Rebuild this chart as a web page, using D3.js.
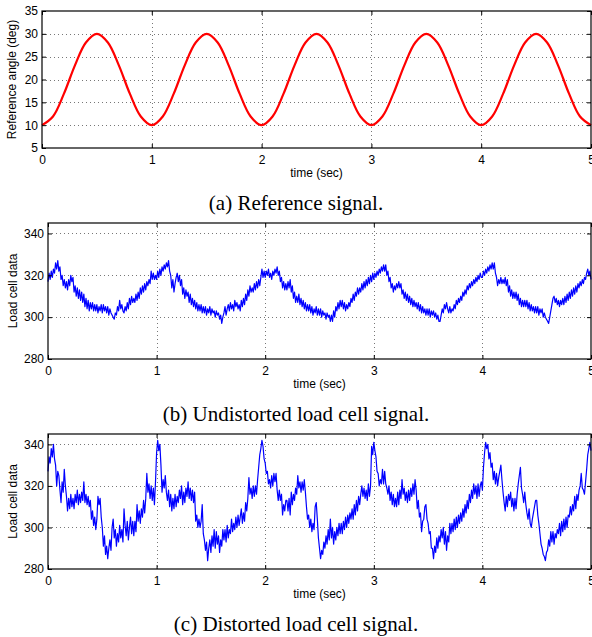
<!DOCTYPE html>
<html>
<head>
<meta charset="utf-8">
<script src="https://cdn.jsdelivr.net/npm/d3@7"></script>
<style>
body { margin: 0; background: white; }
text { font-family: "Liberation Sans", Arial, sans-serif; }
.caption { font-family: "Liberation Serif", "Times New Roman", serif; }
</style>
</head>
<body>
<script>
// samples are evenly spaced in time
let refStep = 0.1;
let refAngle = [
    10, 11.9, 16.9, 23.1, 28.1, 30, 28.1, 23.1, 16.9, 11.9,
    10, 11.9, 16.9, 23.1, 28.1, 30, 28.1, 23.1, 16.9, 11.9,
    10, 11.9, 16.9, 23.1, 28.1, 30, 28.1, 23.1, 16.9, 11.9,
    10, 11.9, 16.9, 23.1, 28.1, 30, 28.1, 23.1, 16.9, 11.9,
    10, 11.9, 16.9, 23.1, 28.1, 30, 28.1, 23.1, 16.9, 11.9,
    10
];

let cellStep = 0.01;
let undistorted = [
    317, 321, 318, 322, 319, 323, 321, 326, 323, 327,
    322, 324, 318, 320, 315, 318, 314, 317, 313, 318,
    315, 320, 317, 319, 312, 315, 310, 314, 309, 313,
    308, 312, 307, 311, 305, 309, 304, 308, 303, 307,
    304, 307, 303, 306, 303, 306, 302, 305, 303, 306,
    302, 306, 303, 305, 302, 305, 301, 304, 302, 301,
    300, 299, 302, 301, 305, 303, 308, 304, 306, 303,
    302, 305, 303, 307, 304, 309, 306, 310, 307, 309,
    307, 311, 308, 312, 309, 314, 311, 315, 312, 316,
    313, 317, 315, 318, 316, 322, 318, 321, 318, 320,
    318, 322, 319, 323, 320, 324, 322, 325, 323, 326,
    324, 327, 322, 320, 314, 318, 312, 316, 319, 321,
    317, 320, 315, 318, 311, 314, 309, 313, 310, 312,
    307, 311, 306, 309, 305, 308, 304, 307, 303, 306,
    303, 306, 302, 305, 302, 305, 301, 304, 302, 305,
    301, 304, 302, 303, 300, 303, 301, 302, 299, 301,
    297, 300, 302, 305, 301, 304, 306, 303, 307, 304,
    306, 303, 308, 305, 307, 304, 306, 303, 308, 305,
    309, 306, 311, 308, 313, 310, 315, 312, 314, 312,
    316, 313, 317, 314, 318, 315, 319, 323, 319, 322,
    319, 322, 320, 323, 319, 321, 318, 322, 320, 323,
    321, 324, 320, 322, 317, 319, 314, 317, 313, 316,
    313, 317, 314, 318, 312, 315, 309, 312, 307, 310,
    307, 311, 306, 309, 305, 308, 304, 307, 303, 306,
    303, 306, 302, 305, 301, 304, 302, 305, 301, 304,
    301, 304, 300, 303, 301, 302, 299, 302, 300, 301,
    298, 301, 298, 303, 300, 305, 303, 307, 304, 308,
    305, 308, 304, 307, 303, 306, 304, 307, 305, 309,
    307, 311, 308, 312, 310, 314, 311, 314, 312, 316,
    313, 317, 314, 318, 315, 319, 316, 320, 317, 321,
    318, 321, 319, 322, 320, 323, 321, 324, 322, 325,
    322, 325, 320, 322, 317, 319, 314, 316, 312, 315,
    313, 316, 314, 317, 314, 316, 311, 313, 309, 312,
    308, 311, 307, 310, 306, 309, 305, 308, 305, 307,
    304, 307, 303, 306, 302, 305, 302, 304, 301, 304,
    301, 304, 300, 303, 301, 303, 300, 302, 299, 301,
    298, 298, 301, 304, 302, 306, 304, 307, 304, 302,
    305, 302, 304, 303, 306, 304, 308, 306, 309, 307,
    310, 308, 312, 310, 313, 311, 315, 313, 316, 314,
    317, 315, 318, 316, 319, 317, 320, 318, 321, 319,
    319, 322, 320, 323, 321, 324, 322, 325, 323, 326,
    323, 326, 321, 319, 315, 318, 316, 319, 316, 318,
    316, 319, 315, 318, 312, 315, 310, 313, 309, 312,
    309, 312, 308, 311, 306, 309, 305, 308, 305, 308,
    305, 308, 304, 307, 303, 306, 303, 305, 302, 305,
    302, 305, 301, 304, 302, 304, 300, 302, 300, 299,
    298, 297, 300, 303, 306, 309, 310, 307, 309, 306,
    308, 305, 308, 306, 309, 306, 310, 307, 311, 308,
    312, 309, 313, 310, 314, 311, 315, 312, 316, 314,
    317, 315, 318, 316, 319, 318, 321, 323, 320, 322,
    318
];

let distorted = [
    327, 334, 331, 338, 334, 340, 333, 330, 320, 327,
    325, 318, 312, 322, 317, 328, 320, 315, 308, 314,
    309, 316, 310, 314, 309, 316, 312, 318, 311, 316,
    312, 317, 313, 322, 312, 316, 311, 315, 310, 313,
    304, 308, 301, 305, 299, 304, 315, 311, 314, 305,
    300, 291, 296, 287, 291, 285, 290, 294, 289, 300,
    304, 295, 299, 291, 297, 293, 301, 295, 299, 293,
    309, 301, 296, 303, 294, 300, 305, 297, 303, 296,
    303, 298, 311, 303, 308, 302, 309, 305, 313, 307,
    314, 326, 317, 321, 314, 320, 313, 319, 311, 322,
    336, 342, 337, 340, 330, 317, 323, 319, 325, 317,
    313, 318, 310, 316, 308, 314, 309, 316, 310, 315,
    312, 318, 314, 320, 311, 317, 312, 319, 315, 322,
    314, 319, 313, 318, 312, 317, 303, 306, 300, 304,
    300, 303, 311, 297, 294, 289, 293, 284, 290, 294,
    288, 296, 291, 299, 290, 298, 292, 296, 288, 294,
    291, 299, 294, 299, 293, 301, 295, 299, 297, 304,
    298, 302, 299, 305, 300, 306, 301, 305, 309, 302,
    307, 303, 312, 308, 314, 324, 316, 319, 314, 320,
    315, 320, 316, 323, 329, 335, 338, 342, 339, 333,
    331, 326, 327, 321, 323, 319, 325, 320, 326, 322,
    326, 318, 313, 318, 313, 316, 306, 311, 308, 313,
    313, 308, 314, 306, 317, 311, 316, 313, 319, 316,
    325, 319, 322, 317, 322, 318, 323, 317, 310, 304,
    306, 300, 304, 298, 302, 299, 310, 312, 304, 295,
    290, 285, 289, 287, 293, 290, 296, 292, 299, 294,
    304, 295, 300, 292, 298, 294, 300, 296, 302, 297,
    302, 297, 303, 299, 305, 300, 306, 302, 307, 304,
    309, 304, 311, 306, 313, 308, 315, 311, 316, 320,
    315, 319, 314, 318, 313, 321, 315, 320, 339, 335,
    341, 337, 334, 327, 326, 320, 323, 321, 328, 321,
    327, 321, 319, 316, 320, 313, 317, 311, 316, 310,
    314, 310, 317, 311, 318, 314, 323, 316, 319, 313,
    317, 312, 318, 313, 319, 315, 321, 316, 323, 318,
    309, 313, 305, 307, 298, 303, 304, 310, 311, 304,
    302, 297, 298, 290, 290, 285, 291, 288, 295, 290,
    296, 293, 299, 295, 300, 292, 298, 289, 296, 293,
    302, 297, 302, 298, 304, 299, 305, 300, 306, 302,
    307, 303, 309, 305, 311, 307, 313, 309, 316, 312,
    318, 314, 321, 316, 320, 314, 321, 315, 320, 322,
    318, 329, 336, 341, 338, 340, 333, 336, 329, 331,
    323, 327, 321, 326, 320, 324, 327, 330, 323, 317,
    312, 308, 315, 310, 316, 313, 317, 310, 314, 308,
    314, 309, 316, 321, 325, 329, 319, 316, 312, 317,
    311, 307, 304, 309, 302, 300, 304, 307, 310, 313,
    313, 306, 302, 297, 292, 290, 287, 286, 284, 288,
    289, 294, 291, 298, 293, 298, 292, 297, 295, 299,
    297, 302, 296, 303, 298, 304, 299, 305, 300, 306,
    305, 310, 306, 311, 308, 315, 309, 316, 313, 318,
    320, 326, 319, 318, 316, 322, 328, 335, 338, 341,
    337
];

let timeTicks = [0, 1, 2, 3, 4, 5];
let angleTicks = [5, 10, 15, 20, 25, 30, 35];
let cellTicks = [280, 300, 320, 340];

let svg = d3.select('body')
    .append('svg')
        .attr('width', 592)
        .attr('height', 637);

function DrawPanel(box, yDomain, yTicks, values, step, color, lw, yLabel, yLabelX, caption, smooth) {
    let x = d3.scaleLinear().domain([0, 5]).range([box.left, box.right]);
    let y = d3.scaleLinear().domain(yDomain).range([box.bottom, box.top]);
    let g = svg.append('g');
    let fmt = d3.format('d');

    // dotted grid
    g.append('g').selectAll('line')
        .data(timeTicks.filter(t => t > 0 && t < 5))
        .join('line')
            .attr('x1', d => Math.round(x(d)) + 0.5).attr('x2', d => Math.round(x(d)) + 0.5)
            .attr('y1', box.top).attr('y2', box.bottom)
            .attr('stroke', '#777').attr('stroke-dasharray', '1,3');
    g.append('g').selectAll('line')
        .data(yTicks.filter(v => v > yDomain[0] && v < yDomain[1]))
        .join('line')
            .attr('y1', d => Math.round(y(d)) + 0.5).attr('y2', d => Math.round(y(d)) + 0.5)
            .attr('x1', box.left).attr('x2', box.right)
            .attr('stroke', '#777').attr('stroke-dasharray', '1,3');

    // signal
    let line = d3.line()
        .x((d, i) => x(i * step))
        .y(d => y(d));
    if (smooth) line.curve(d3.curveCatmullRom);
    g.append('path')
        .datum(values)
        .attr('d', line)
        .attr('fill', 'none')
        .attr('stroke', color)
        .attr('stroke-width', lw)
        .attr('stroke-linejoin', 'round');

    // axes with inward ticks, matlab style
    g.append('g')
        .attr('transform', `translate(0,${box.bottom})`)
        .call(d3.axisBottom(x).tickValues(timeTicks).tickFormat(fmt).tickSizeInner(-4).tickSizeOuter(0).tickPadding(7));
    g.append('g')
        .attr('transform', `translate(0,${box.top})`)
        .call(d3.axisTop(x).tickValues(timeTicks).tickSizeInner(-4).tickSizeOuter(0).tickFormat(''));
    g.append('g')
        .attr('transform', `translate(${box.left},0)`)
        .call(d3.axisLeft(y).tickValues(yTicks).tickFormat(fmt).tickSizeInner(-4).tickSizeOuter(0).tickPadding(4));
    g.append('g')
        .attr('transform', `translate(${box.right},0)`)
        .call(d3.axisRight(y).tickValues(yTicks).tickSizeInner(-4).tickSizeOuter(0).tickFormat(''));
    g.selectAll('.domain').remove();
    g.selectAll('.tick line').attr('stroke', 'black');
    g.selectAll('.tick text').attr('font-size', '12px').attr('fill', 'black')
        .style('font-family', '"Liberation Sans", Arial, sans-serif');

    g.append('rect')
        .attr('x', box.left).attr('y', box.top)
        .attr('width', box.right - box.left).attr('height', box.bottom - box.top)
        .attr('fill', 'none').attr('stroke', 'black').attr('stroke-width', 1.2);

    g.append('text')
        .attr('transform', `translate(${yLabelX},${(box.top + box.bottom) / 2}) rotate(-90)`)
        .attr('text-anchor', 'middle')
        .attr('font-size', '12px')
        .text(yLabel);
    g.append('text')
        .attr('x', (box.left + box.right) / 2)
        .attr('y', box.bottom + 29)
        .attr('text-anchor', 'middle')
        .attr('font-size', '12px')
        .text('time (sec)');
    g.append('text')
        .attr('class', 'caption')
        .attr('x', 296)
        .attr('y', box.bottom + 61.5)
        .attr('text-anchor', 'middle')
        .attr('font-size', '21px')
        .text(caption);
}

DrawPanel({left: 42, right: 591, top: 11, bottom: 148}, [5, 35], angleTicks, refAngle, refStep,
    '#ff0000', 2.2, 'Reference angle (deg)', 15.5, '(a) Reference signal.', true);
DrawPanel({left: 48, right: 591, top: 223, bottom: 359}, [280, 345], cellTicks, undistorted, cellStep,
    '#0000ff', 1.2, 'Load cell data', 17, '(b) Undistorted load cell signal.', false);
DrawPanel({left: 48, right: 591, top: 434, bottom: 569}, [280, 345], cellTicks, distorted, cellStep,
    '#0000ff', 1.2, 'Load cell data', 17, '(c) Distorted load cell signal.', false);
</script>
</body>
</html>
